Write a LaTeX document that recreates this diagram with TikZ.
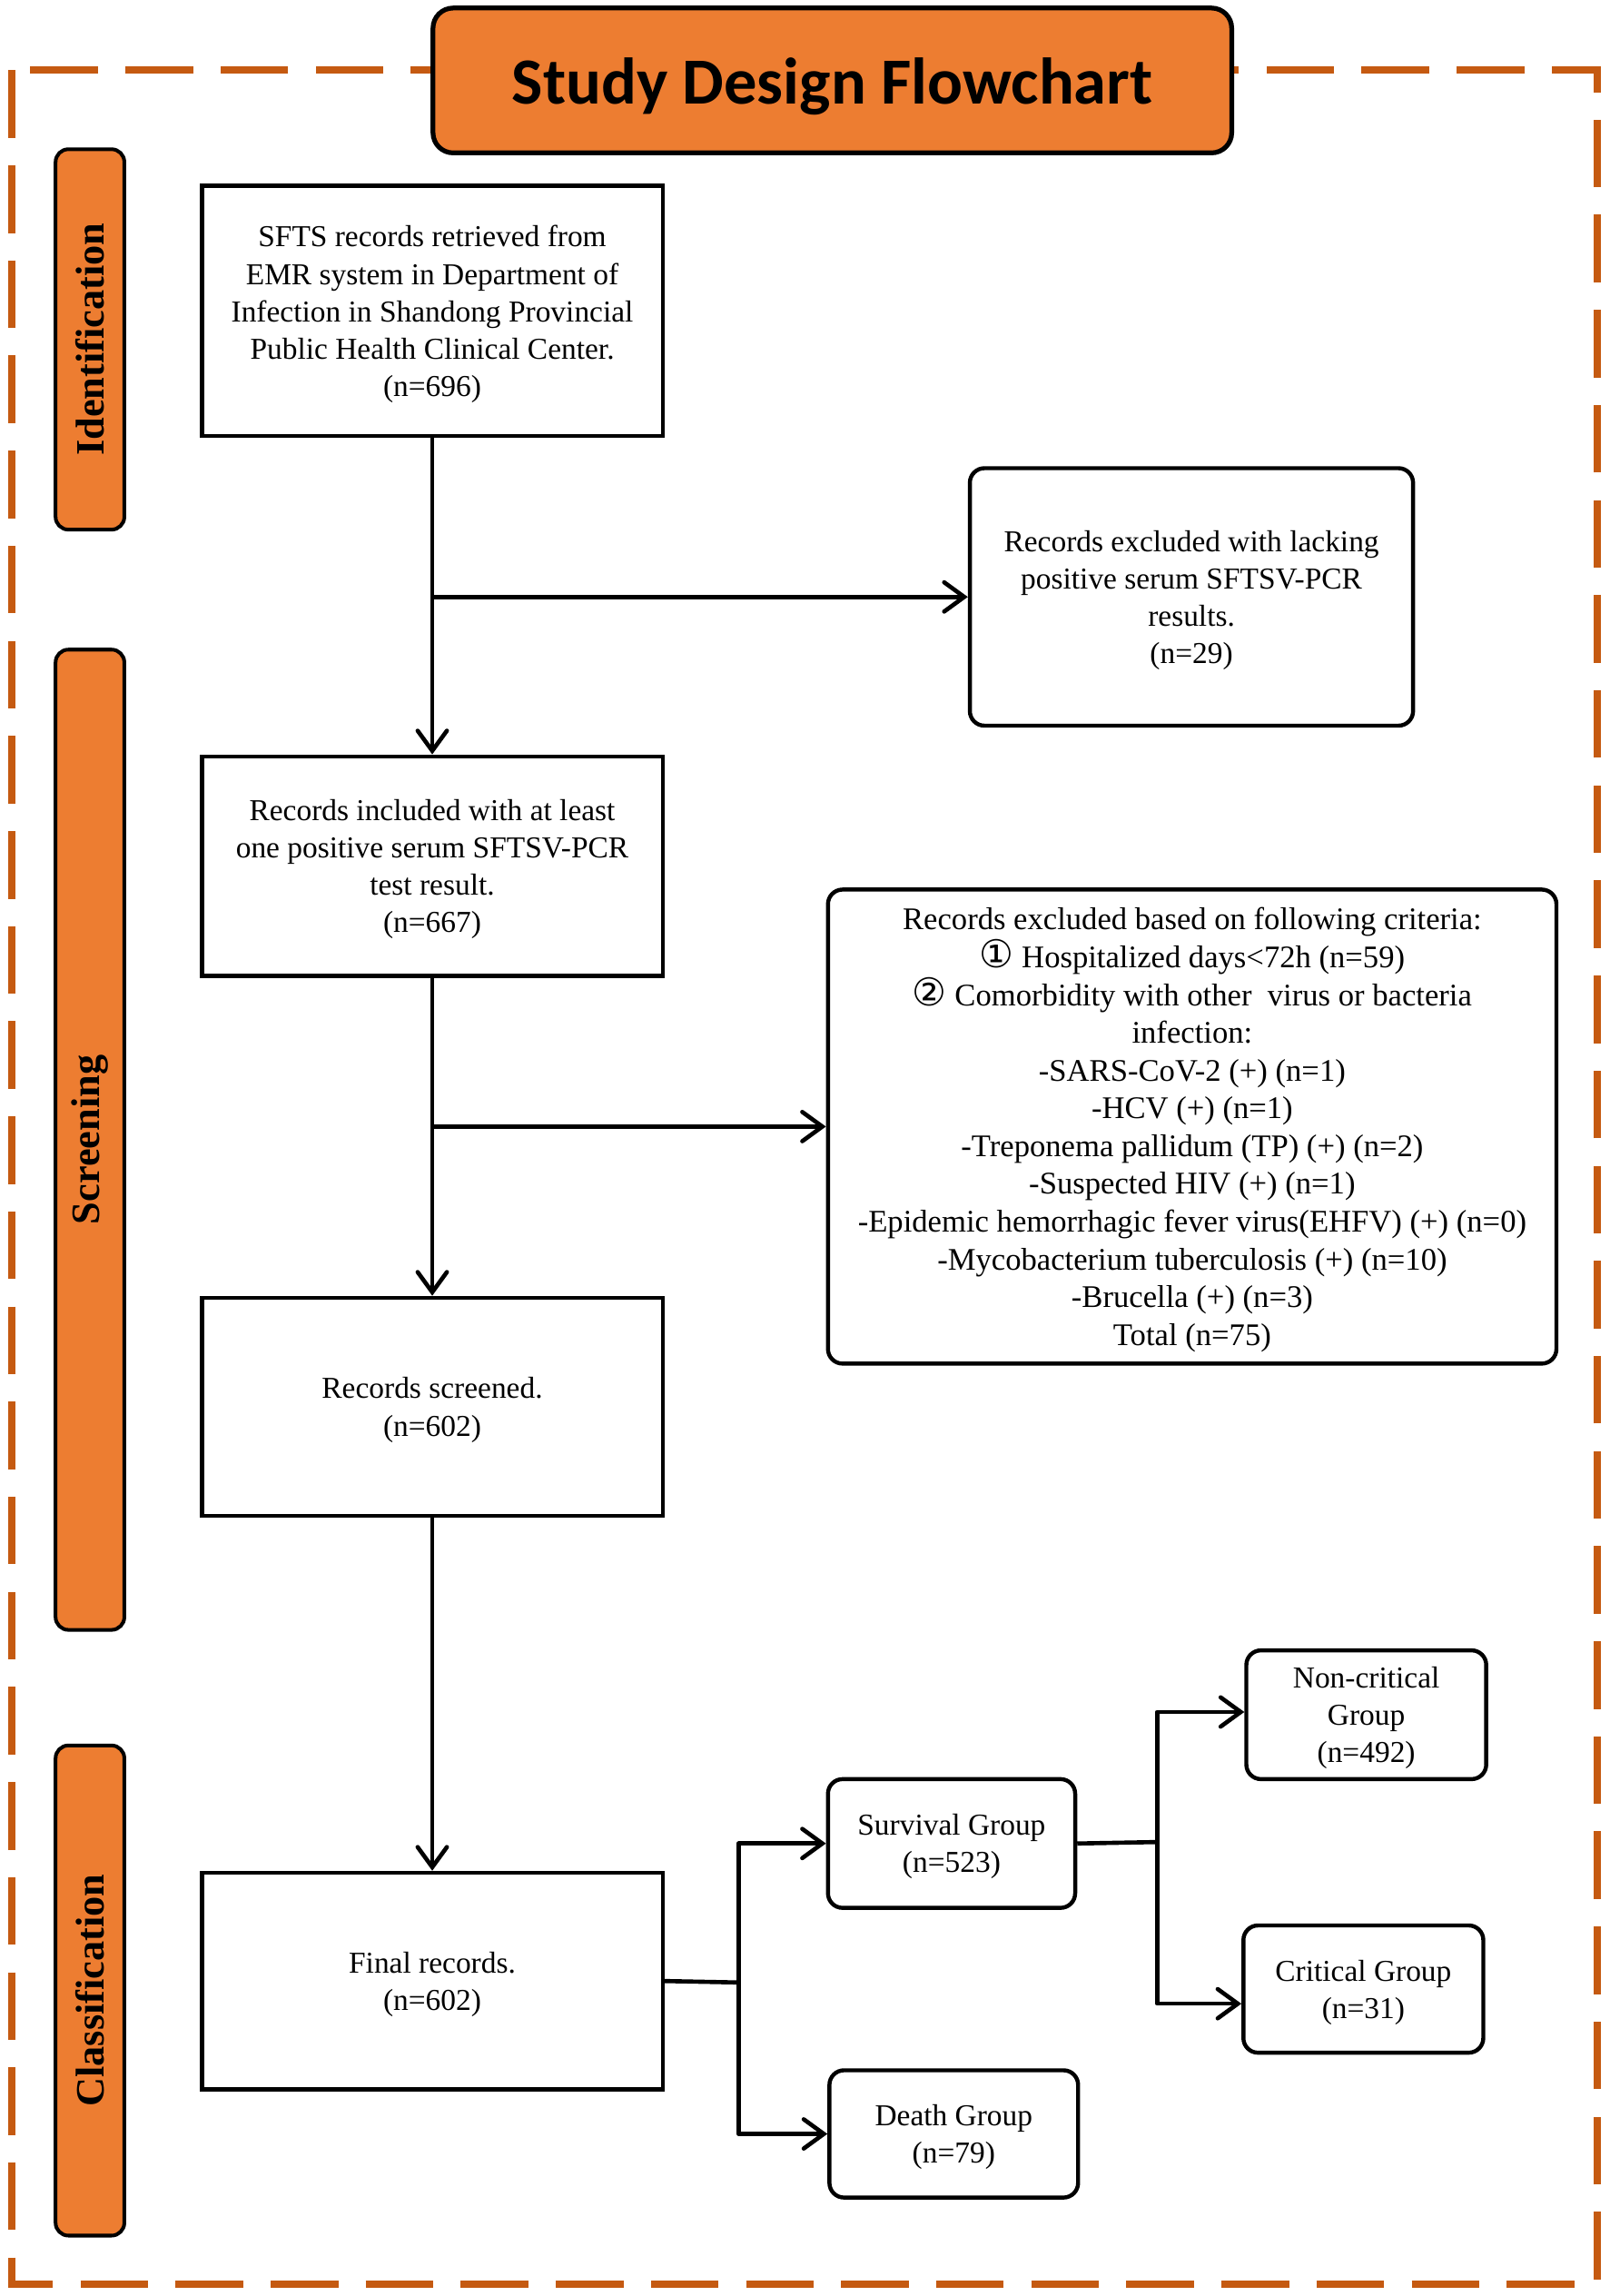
\documentclass[tikz,border=0pt]{standalone}
\usepackage{fontspec}
\setmainfont{Liberation Serif}
\newfontfamily\titlefont{Carlito}
\newfontfamily\symfont{DejaVu Sans}
\usetikzlibrary{arrows.meta,positioning}
\definecolor{frameor}{RGB}{197,90,17}
\definecolor{fillor}{RGB}{237,125,49}
\tikzset{
  body/.style={font=\fontsize{16.6}{20.4}\selectfont, align=center, inner sep=0pt, text depth=0pt},
  sqbox/.style={body, draw, line width=2.2pt, minimum width=252pt},
  rbox/.style={body, draw, line width=2.2pt, rounded corners=8pt},
  sidebox/.style={draw, fill=fillor, line width=2pt, rounded corners=7pt, rotate=90, inner sep=0pt,
     font=\fontsize{22}{24}\selectfont\bfseries},
  conn/.style={line width=2.3pt, line join=round, -{Straight Barb[length=11pt,width=16pt,line cap=round]}},
  plain/.style={line width=2.3pt, line join=round},
}
\newcommand{\circnum}[1]{{\symfont\fontsize{21}{20.4}\selectfont #1}}
\begin{document}
\begin{tikzpicture}[x=0.8pt,y=-0.8pt]
\useasboundingbox (0,0) rectangle (1100,1569.3);
% outer dashed frame
\draw[frameor, line width=4pt, dash pattern=on 37pt off 15pt] (8,48) rectangle (1092,1561);
% title
\node[draw, fill=fillor, line width=2.6pt, rounded corners=11pt, minimum width=436.8pt, minimum height=79.2pt, text depth=0pt,
  font=\titlefont\fontsize{36}{38}\selectfont\bfseries] (title) at (569,55) {Study Design Flowchart};
% side labels
\node[sidebox, minimum width=208pt, minimum height=37.6pt] (sid) at (61.5,232) {Identification};
\node[sidebox, minimum width=536pt, minimum height=37.6pt] (sscr) at (61.5,779) {Screening};
\node[sidebox, minimum width=268pt, minimum height=37.6pt] (scls) at (61.5,1360.5) {Classification};
% main boxes
\node[sqbox, minimum height=136.8pt] (b1) at (295.5,212.5) {SFTS records retrieved from\\EMR system in Department of\\Infection in Shandong Provincial\\Public Health Clinical Center.\\(n=696)};
\node[sqbox, minimum height=120pt] (b2) at (295.5,592) {Records included with at least\\one positive serum SFTSV-PCR\\test result.\\(n=667)};
\node[sqbox, minimum height=119.2pt] (b3) at (295.5,961.5) {Records screened.\\(n=602)};
\node[sqbox, minimum height=118.4pt] (b4) at (295.5,1354) {Final records.\\(n=602)};
% exclusion boxes
\node[rbox, minimum width=242.4pt, minimum height=140.8pt] (e1) at (814.5,408) {Records excluded with lacking\\positive serum SFTSV-PCR\\results.\\(n=29)};
\node[rbox, minimum width=398.4pt, minimum height=259.2pt, font=\fontsize{17.2}{20.65}\selectfont] (e2) at (815,770) {Records excluded based on following criteria:\\\circnum{①} Hospitalized days<72h (n=59)\\\circnum{②} Comorbidity with other~ virus or bacteria\\infection:\\-SARS-CoV-2 (+) (n=1)\\-HCV (+) (n=1)\\-Treponema pallidum (TP) (+) (n=2)\\-Suspected HIV (+) (n=1)\\-Epidemic hemorrhagic fever virus(EHFV) (+) (n=0)\\-Mycobacterium tuberculosis (+) (n=10)\\-Brucella (+) (n=3)\\Total (n=75)};
% group boxes
\node[rbox, minimum width=135.2pt, minimum height=70.4pt] (surv) at (650.5,1260) {Survival Group\\(n=523)};
\node[rbox, minimum width=136pt, minimum height=69.6pt] (death) at (652,1458.5) {Death Group\\(n=79)};
\node[rbox, minimum width=131.2pt, minimum height=70.4pt] (nc) at (934,1172) {Non-critical\\Group\\(n=492)};
\node[rbox, minimum width=131.2pt, minimum height=69.6pt] (cr) at (932,1359.5) {Critical Group\\(n=31)};
% connectors
\draw[conn] (b1.south) -- (b2.north);
\draw[conn] (b1.south |- e1.west) -- (e1.west);
\draw[conn] (b2.south) -- (b3.north);
\draw[conn] (b2.south |- e2.west) -- (e2.west);
\draw[conn] (b3.south) -- (b4.north);
\coordinate (j1) at (505,1355);
\draw[plain] (b4.east) -- (j1);
\draw[conn] (j1) |- (surv.west);
\draw[conn] (j1) |- (death.west);
\coordinate (j2) at (791,1259);
\draw[plain] (surv.east) -- (j2);
\draw[conn] (j2) |- ([yshift=1.5pt]nc.west);
\draw[conn] (j2) |- ([yshift=-8pt]cr.west);
\end{tikzpicture}
\end{document}
